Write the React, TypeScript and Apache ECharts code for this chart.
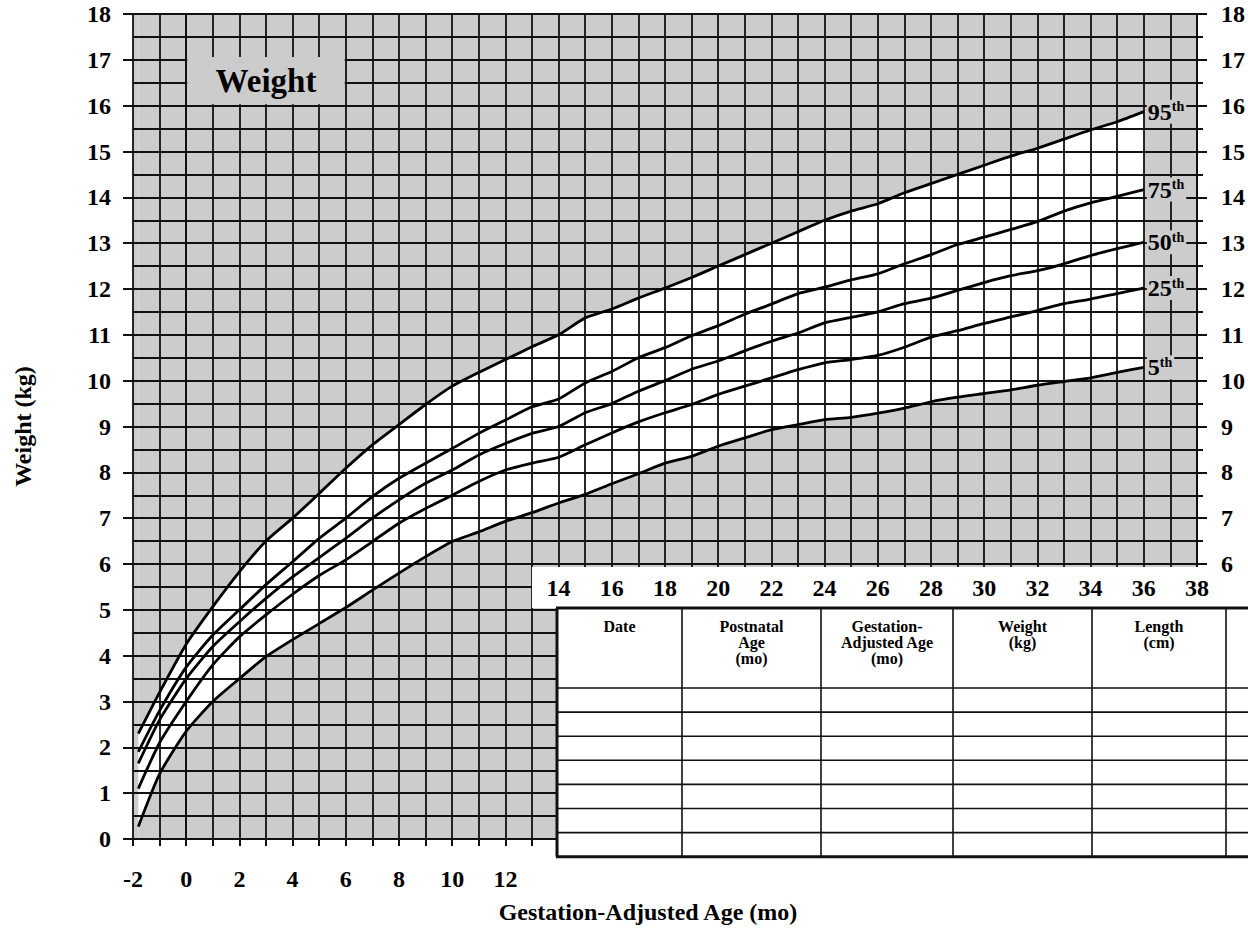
import React, { useEffect, useRef } from 'react';
import * as echarts from 'echarts';

// Gestation-adjusted age (months)
const months = [-1.8, -1, 0, 1, 2, 3, 4, 5, 6, 7, 8, 9, 10, 11, 12, 13, 14, 15, 16, 17, 18, 19, 20, 21, 22, 23, 24, 25, 26, 27, 28, 29, 30, 31, 32, 33, 34, 35, 36];

// Weight percentiles (kg)
const p95 = [2.3, 3.2, 4.25, 5.07, 5.83, 6.5, 7.0, 7.54, 8.09, 8.6, 9.04, 9.48, 9.88, 10.18, 10.46, 10.74, 11.0, 11.37, 11.56, 11.8, 12.02, 12.25, 12.5, 12.75, 13.0, 13.25, 13.5, 13.7, 13.86, 14.1, 14.3, 14.5, 14.7, 14.9, 15.07, 15.27, 15.47, 15.65, 15.87];
const p75 = [1.9, 2.8, 3.75, 4.45, 5.0, 5.55, 6.05, 6.56, 7.0, 7.47, 7.87, 8.2, 8.52, 8.85, 9.14, 9.43, 9.6, 9.95, 10.2, 10.5, 10.72, 10.98, 11.2, 11.45, 11.67, 11.9, 12.04, 12.2, 12.33, 12.55, 12.75, 12.97, 13.13, 13.3, 13.47, 13.7, 13.88, 14.02, 14.17];
const p50 = [1.65, 2.6, 3.5, 4.2, 4.74, 5.25, 5.72, 6.14, 6.56, 7.0, 7.4, 7.76, 8.05, 8.38, 8.63, 8.85, 9.0, 9.3, 9.5, 9.77, 10.0, 10.25, 10.43, 10.65, 10.86, 11.04, 11.26, 11.38, 11.5, 11.68, 11.8, 11.97, 12.14, 12.29, 12.4, 12.55, 12.73, 12.88, 13.02];
const p25 = [1.1, 2.1, 3.0, 3.8, 4.41, 4.89, 5.34, 5.75, 6.09, 6.49, 6.89, 7.21, 7.5, 7.8, 8.05, 8.2, 8.33, 8.6, 8.86, 9.1, 9.3, 9.48, 9.7, 9.88, 10.06, 10.24, 10.39, 10.46, 10.55, 10.73, 10.95, 11.09, 11.25, 11.39, 11.53, 11.68, 11.78, 11.9, 12.02];
const p5 = [0.27, 1.42, 2.35, 3.0, 3.5, 3.98, 4.35, 4.7, 5.05, 5.43, 5.8, 6.16, 6.49, 6.7, 6.93, 7.12, 7.33, 7.52, 7.75, 7.97, 8.2, 8.35, 8.57, 8.75, 8.93, 9.04, 9.15, 9.2, 9.29, 9.4, 9.54, 9.64, 9.72, 9.8, 9.9, 9.98, 10.06, 10.18, 10.29];

const percentileNames = ['95', '75', '50', '25', '5'];
const percentileSeries = [p95, p75, p50, p25, p5];

// Axis ranges and tick label rules
const xMin = -2, xMax = 38;
const yMin = 0, yMax = 18;
const lowerAxisMaxLabel = 12;
const upperAxisMinLabel = 14;
const rightAxisMinLabel = 6;

// Table header
const tableHeaders = ['Date', 'Postnatal\nAge\n(mo)', 'Gestation-\nAdjusted Age\n(mo)', 'Weight\n(kg)', 'Length\n(cm)', ''];
const tableRowCount = 7;

const FONT = "'Liberation Serif', 'DejaVu Serif', serif";
const GRAY = '#cccccc';
const INK = '#111111';
const SMOOTH = 0.2;

export default function App() {
  const ref = useRef<HTMLDivElement>(null);

  useEffect(() => {
    if (!ref.current) return;
    const chart = echarts.init(ref.current, undefined, { renderer: 'svg' });

    const gridLeft = 133, gridTop = 14, gridRight = 51, gridBottom = 91;

    // table geometry (layout only)
    const colX = [557, 682, 821, 953, 1092, 1226, 1260];
    const headTop = 608, headBottom = 688, rowH = 24.1;
    const rowYs: number[] = [];
    for (let i = 0; i <= tableRowCount; i++) rowYs.push(headBottom + i * rowH);
    const tableBottom = rowYs[rowYs.length - 1];

    const graphics: any[] = [];
    graphics.push({ type: 'rect', z: 50, shape: { x: 532, y: 567, width: 716, height: 41 }, style: { fill: '#fff' }, silent: true });
    graphics.push({ type: 'rect', z: 50, shape: { x: colX[0], y: headTop, width: 700, height: 930 - headTop }, style: { fill: '#fff' }, silent: true });
    graphics.push({ type: 'line', z: 52, shape: { x1: colX[0] - 1, y1: headTop, x2: 1250, y2: headTop }, style: { stroke: INK, lineWidth: 3 } });
    graphics.push({ type: 'line', z: 52, shape: { x1: colX[0] - 1, y1: tableBottom, x2: 1250, y2: tableBottom }, style: { stroke: INK, lineWidth: 3 } });
    graphics.push({ type: 'line', z: 52, shape: { x1: colX[0], y1: headTop, x2: colX[0], y2: tableBottom }, style: { stroke: INK, lineWidth: 3 } });
    for (let i = 1; i < colX.length - 1; i++) {
      graphics.push({ type: 'line', z: 52, shape: { x1: colX[i], y1: headTop, x2: colX[i], y2: tableBottom }, style: { stroke: INK, lineWidth: 1.6 } });
    }
    for (let i = 0; i < rowYs.length - 1; i++) {
      graphics.push({ type: 'line', z: 52, shape: { x1: colX[0], y1: rowYs[i], x2: 1250, y2: rowYs[i] }, style: { stroke: INK, lineWidth: 1.6 } });
    }
    tableHeaders.forEach((h, i) => {
      if (!h) return;
      const cx = (colX[i] + colX[i + 1]) / 2;
      graphics.push({
        type: 'text', z: 53, x: cx, y: headTop + 10,
        style: { text: h, align: 'center', verticalAlign: 'top', font: `bold 16px ${FONT}`, lineHeight: 16, fill: '#000' },
      });
    });
    graphics.push({
      type: 'text', z: 53, x: 648, y: 912,
      style: { text: 'Gestation-Adjusted Age (mo)', align: 'center', verticalAlign: 'middle', font: `bold 24px ${FONT}`, fill: '#000' },
    });

    const labelStyle = { fontFamily: FONT, fontWeight: 'bold', fontSize: 24, color: '#000' };

    const grayArea = (data: number[][], origin: string, smooth: number | boolean) => ({
      type: 'line', xAxisIndex: 0, yAxisIndex: 0, data, symbol: 'none', smooth, z: -1, silent: true,
      lineStyle: { width: 0, opacity: 0 },
      areaStyle: { color: GRAY, opacity: 1, origin },
    });

    const first = months[0], last = months[months.length - 1];

    const curveSeries = percentileSeries.map((arr, k) => ({
      type: 'line',
      name: percentileNames[k] + 'th',
      xAxisIndex: 0,
      yAxisIndex: 0,
      data: months.map((m, i) => [m, arr[i]]),
      symbol: 'none',
      smooth: SMOOTH,
      z: 3,
      silent: true,
      lineStyle: { color: '#000', width: 2.8, join: 'round' },
      endLabel: {
        show: true,
        distance: 3,
        formatter: `{n|${percentileNames[k]}}{s|th}`,
        backgroundColor: GRAY,
        padding: [0, 2, 0, 1],
        rich: {
          n: { fontFamily: FONT, fontWeight: 'bold', fontSize: 24, color: '#000' },
          s: { fontFamily: FONT, fontWeight: 'bold', fontSize: 14, color: '#000', verticalAlign: 'top' },
        },
      },
      ...(k === 0
        ? {
            markArea: {
              silent: true,
              itemStyle: { color: GRAY, opacity: 1 },
              label: { show: true, position: 'inside', fontFamily: FONT, fontWeight: 'bold', fontSize: 33, color: '#000' },
              data: [[{ name: 'Weight', xAxis: 0.04, yAxis: 16.03 }, { xAxis: 5.96, yAxis: 17.06 }]],
            },
          }
        : {}),
    }));

    const option: any = {
      animation: false,
      backgroundColor: '#fff',
      grid: [
        { left: gridLeft, right: gridRight, top: gridTop, bottom: gridBottom, show: true, backgroundColor: '#ffffff', borderWidth: 0, z: -3 },
        { left: gridLeft, right: gridRight, top: gridTop, height: 550, show: false },
      ],
      xAxis: [
        {
          gridIndex: 0, type: 'value', min: xMin, max: xMax, interval: 1, position: 'bottom',
          axisLine: { show: true, onZero: false, lineStyle: { color: INK, width: 2 } },
          axisTick: { show: true, length: 7, lineStyle: { color: INK, width: 2 } },
          axisLabel: {
            ...labelStyle, margin: 28, showMinLabel: true, showMaxLabel: true,
            formatter: (v: number) => (v % 2 === 0 && v <= lowerAxisMaxLabel ? String(v) : ''),
          },
          splitLine: { show: true, lineStyle: { color: INK, width: 1.8 } },
        },
        {
          gridIndex: 1, type: 'value', min: xMin, max: xMax, interval: 1, position: 'bottom', z: 60,
          axisLine: { show: false }, axisTick: { show: false }, splitLine: { show: false },
          axisLabel: {
            ...labelStyle, margin: 12, showMinLabel: true, showMaxLabel: true,
            formatter: (v: number) => (v % 2 === 0 && v >= upperAxisMinLabel ? String(v) : ''),
          },
        },
      ],
      yAxis: [
        {
          gridIndex: 0, type: 'value', min: yMin, max: yMax, interval: 0.5, position: 'left',
          axisLine: { show: true, lineStyle: { color: INK, width: 2 } },
          axisTick: { show: true, length: 6, lineStyle: { color: INK, width: 2 } },
          axisLabel: { ...labelStyle, margin: 22, formatter: (v: number) => (Number.isInteger(v) ? String(v) : '') },
          splitLine: { show: true, lineStyle: { color: INK, width: 1.8 } },
          name: 'Weight (kg)', nameLocation: 'middle', nameGap: 98, nameRotate: 90,
          nameTextStyle: { fontFamily: FONT, fontWeight: 'bold', fontSize: 24, color: '#000' },
        },
        {
          gridIndex: 0, type: 'value', min: yMin, max: yMax, interval: 1, position: 'left',
          axisLine: { show: false }, axisTick: { show: true, length: 10, lineStyle: { color: INK, width: 2 } },
          axisLabel: { show: false }, splitLine: { show: false },
        },
        {
          gridIndex: 0, type: 'value', min: yMin, max: yMax, interval: 0.5, position: 'right',
          axisLine: { show: true, lineStyle: { color: INK, width: 2 } },
          axisTick: { show: true, length: 6, lineStyle: { color: INK, width: 2 } },
          axisLabel: { show: false }, splitLine: { show: false },
        },
        {
          gridIndex: 0, type: 'value', min: yMin, max: yMax, interval: 1, position: 'right',
          axisLine: { show: false }, axisTick: { show: true, length: 10, lineStyle: { color: INK, width: 2 } },
          axisLabel: { show: false }, splitLine: { show: false },
        },
        {
          gridIndex: 0, type: 'value', min: yMin, max: yMax, interval: 1, position: 'right', z: 60,
          axisLine: { show: false }, axisTick: { show: false }, splitLine: { show: false },
          axisLabel: { ...labelStyle, margin: 24, formatter: (v: number) => (v >= rightAxisMinLabel ? String(v) : '') },
        },
        { gridIndex: 1, type: 'value', min: 0, max: 12, show: false },
      ],
      graphic: graphics,
      series: [
        // gray outside the 5th–95th band
        grayArea(months.map((m, i) => [m, p95[i]]), 'end', SMOOTH),
        grayArea(months.map((m, i) => [m, p5[i]]), 'start', SMOOTH),
        grayArea([[xMin, yMax], [first, yMax]], 'start', false),
        grayArea([[last, yMax], [xMax, yMax]], 'start', false),
        ...curveSeries,
      ],
    };

    chart.setOption(option);
    return () => chart.dispose();
  }, []);

  return (
    <div
      ref={ref}
      style={{ position: 'absolute', left: 0, top: 0, width: 1248, height: 930, background: '#fff' }}
    />
  );
}
